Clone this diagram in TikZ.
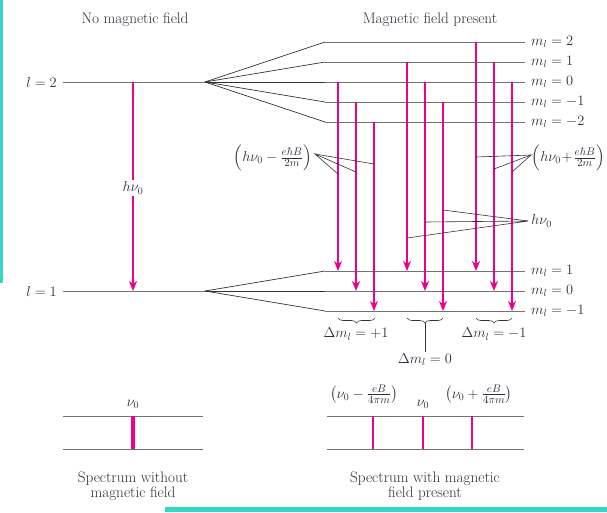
\documentclass[tikz,border=0pt]{standalone}
\usepackage{amsmath}
\usetikzlibrary{arrows.meta,decorations.pathreplacing}
\definecolor{mag}{RGB}{236,0,140}
\definecolor{tealbar}{RGB}{52,214,196}
\definecolor{txt}{RGB}{45,45,60}
\newcommand{\midfrac}[2]{\frac{\text{\fontsize{10.5}{11}\selectfont$#1$}}{\text{\fontsize{10.5}{11}\selectfont$#2$}}}
\begin{document}
\begin{tikzpicture}[x=1pt,y=-1pt,
  font=\fontsize{14}{16}\selectfont,
  level/.style={draw=black!55, line width=0.9pt},
  fan/.style={draw=black!80, line width=0.7pt},
  trans/.style={draw=mag, line width=1.6pt, -{Stealth[length=10pt,width=8pt,inset=3pt]}},
  leader/.style={draw=black!80, line width=0.6pt},
  lbl/.style={text=txt, inner sep=1pt},
  txtlbl/.style={text=txt, inner sep=1pt, font=\fontsize{15.2}{15}\selectfont},
  bracedec/.style={decorate, decoration={brace, mirror, amplitude=5pt}, draw=black!80, line width=0.6pt},
  specbar/.style={draw=mag, line width=2pt}]
\useasboundingbox (0,0) rectangle (607,512);
\fill[tealbar] (0,0) rectangle (3,283);
\fill[tealbar] (165,507) rectangle (607,512);

% titles
\node[txtlbl] (t1) at (135,20) {No magnetic field};
\node[txtlbl] (t2) at (430,20) {Magnetic field present};

% l = 2 level and splitting
\node[lbl, anchor=east] (l2) at (58,82) {$l = 2$};
\coordinate (a2) at (63,82);
\coordinate (f2) at (205,82);
\draw[level] (a2) -- (f2);
\foreach \nm/\yy/\lab in {up2/42/2, up1/62/1, up0/82/0, upm1/102/-1, upm2/122/-2}{
  \coordinate (\nm s) at (325,\yy);
  \coordinate (\nm e) at (525,\yy);
  \draw[fan] (f2) -- (\nm s);
  \draw[level] (\nm s) -- (\nm e);
  \node[lbl, anchor=west] (\nm l) at (530,\yy) {$m_l = \lab$};
}

% l = 1 level and splitting
\node[lbl, anchor=east] (l1) at (58,291) {$l = 1$};
\coordinate (a1) at (63,291);
\coordinate (f1) at (205,291);
\draw[level] (a1) -- (f1);
\foreach \nm/\yy/\lab in {lo1/271/1, lo0/291/0, lom1/311/-1}{
  \coordinate (\nm s) at (325,\yy);
  \coordinate (\nm e) at (525,\yy);
  \draw[fan] (f1) -- (\nm s);
  \draw[level] (\nm s) -- (\nm e);
  \node[lbl, anchor=west] (\nm l) at (530,\yy) {$m_l = \lab$};
}

% left transition without field
\coordinate (ltop) at (133,82);
\coordinate (lbot) at (133,291);
\draw[trans, line width=2pt] (ltop) -- (lbot);
\node[lbl, fill=white, inner sep=2pt] (lh) at (133,188) {$h\nu_0$};

% transitions with field
\foreach \nm/\xx/\yt/\yb in {A/338/82/271, B/356/102/291, C/374/122/311,
                              D/407/62/271, E/425/82/291, F/443/102/311,
                              G/476/42/271, H/494/62/291, I/512/82/311}{
  \coordinate (top\nm) at (\xx,\yt);
  \coordinate (bot\nm) at (\xx,\yb);
  \draw[trans] (top\nm) -- (bot\nm);
}

% left leader label
\node[lbl, anchor=east] (lm) at (313,158) {$\left(h\nu_0 - \midfrac{e\hbar B}{2m}\right)$};
\coordinate (apL) at (315,154);
\coordinate (pA) at (338,174);
\coordinate (pB) at (356,172);
\coordinate (pC) at (374,164);
\draw[leader] (pA) -- (apL) -- (pB);
\draw[leader] (apL) -- (pC);

% right leader label
\node[lbl, anchor=west, inner sep=0.5pt] (lp) at (531,158) {$\left(h\nu_0\!+\!\midfrac{e\hbar B}{2m}\right)$};
\coordinate (apR) at (531,155);
\coordinate (pG) at (476,157);
\coordinate (pH) at (494,169);
\coordinate (pI) at (512,172);
\draw[leader] (pG) -- (apR) -- (pH);
\draw[leader] (apR) -- (pI);

% h nu_0 leader
\node[lbl, anchor=west] (lh0) at (530,221) {$h\nu_0$};
\coordinate (apM) at (528,221);
\coordinate (pD) at (407,238);
\coordinate (pE) at (425,222);
\coordinate (pF) at (443,210);
\draw[leader] (pD) -- (apM) -- (pE);
\draw[leader] (apM) -- (pF);

% braces
\coordinate (b1s) at (338,318); \coordinate (b1e) at (375,318);
\coordinate (b2s) at (407,318); \coordinate (b2e) at (443,318);
\coordinate (b3s) at (476,318); \coordinate (b3e) at (512,318);
\draw[bracedec] (b1s) -- (b1e);
\draw[bracedec] (b2s) -- (b2e);
\draw[bracedec] (b3s) -- (b3e);
\node[lbl] (d1) at (356,334) {$\Delta m_l = +1$};
\node[lbl] (d3) at (494,334) {$\Delta m_l = -1$};
\node[lbl, anchor=north] (d2) at (425,352) {$\Delta m_l = 0$};
\coordinate (b2tip) at (425,323);
\draw[leader] (b2tip) -- (d2.north);

% spectrum without field
\coordinate (s1a) at (63,416); \coordinate (s1b) at (203,416);
\coordinate (s1c) at (63,449); \coordinate (s1d) at (203,449);
\draw[level] (s1a) -- (s1b);
\draw[level] (s1c) -- (s1d);
\coordinate (sb0t) at (133,416); \coordinate (sb0b) at (133,449);
\draw[specbar, line width=4.5pt] (sb0t) -- (sb0b);
\node[lbl, anchor=south] (nu0a) at (133,410) {$\nu_0$};
\node[txtlbl, align=center] (c1) at (133,486) {Spectrum without\\magnetic field};

% spectrum with field
\coordinate (s2a) at (327,416); \coordinate (s2b) at (524,416);
\coordinate (s2c) at (327,449); \coordinate (s2d) at (524,449);
\draw[level] (s2a) -- (s2b);
\draw[level] (s2c) -- (s2d);
\foreach \nm/\xx in {sl/373, sm/423, sr/472}{
  \coordinate (\nm t) at (\xx,416);
  \coordinate (\nm b) at (\xx,449);
  \draw[specbar] (\nm t) -- (\nm b);
}
\node[lbl] (nul) at (364,394) {$\left(\nu_0 - \midfrac{eB}{4\pi m}\right)$};
\node[lbl] (num) at (423,404) {$\nu_0$};
\node[lbl] (nur) at (479,394) {$\left(\nu_0 + \midfrac{eB}{4\pi m}\right)$};
\node[txtlbl, align=center] (c2) at (425,486) {Spectrum with magnetic\\field present};
\end{tikzpicture}
\end{document}
